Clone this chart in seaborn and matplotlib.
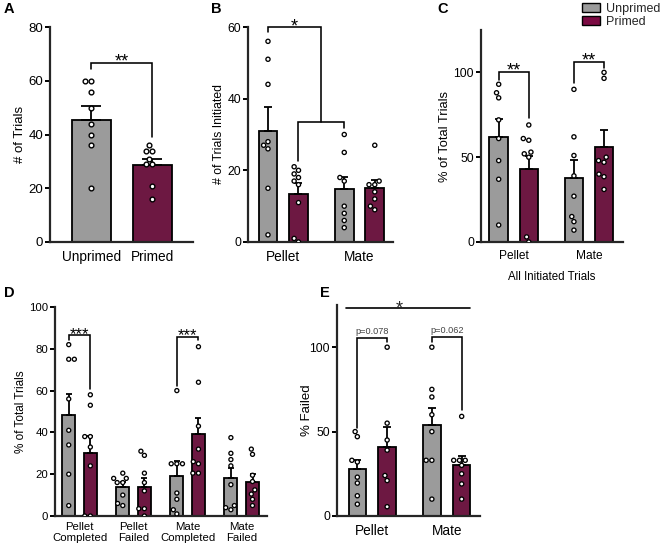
import numpy as np
import pandas as pd
import matplotlib
matplotlib.use("Agg")
import matplotlib.pyplot as plt
import seaborn as sns
from matplotlib.patches import Patch

# ---------------- data ----------------
groups = ["Unprimed", "Primed"]

# Panel A
A_means = [45.5, 28.5]
A_sems = [5.0, 2.5]
A_unprimed = [60, 60, 56, 50, 44, 40, 36, 20]
A_primed = [36, 34, 34, 31, 29, 29, 21, 16]

# Panel B (# of trials initiated)
B_cats = ["Pellet", "Mate"]
B_means_u = [31.0, 14.8]
B_means_p = [13.3, 15.0]
B_sems_u = [6.6, 3.4]
B_sems_p = [3.1, 2.4]
B_pellet_u = [56, 51, 44, 28, 27, 26, 15, 2]
B_pellet_p = [21, 20, 19, 18, 17, 16, 11, 1, 0]
B_mate_u = [30, 25, 18, 17, 10, 8, 6, 4]
B_mate_p = [27, 17, 16, 16, 14, 12, 10, 9]

# Panel C (% of total trials, all initiated)
C_cats = ["Pellet", "Mate"]
C_means_u = [61.7, 37.8]
C_means_p = [43.3, 55.8]
C_sems_u = [10.8, 10.3]
C_sems_p = [7.4, 10.0]
C_pellet_u = [93, 88, 85, 72, 61, 48, 37, 10]
C_pellet_p = [69, 61, 60, 53, 52, 50, 3, 0]
C_mate_u = [90, 62, 51, 39, 27, 15, 12, 7]
C_mate_p = [100, 96.5, 50, 48, 47, 40, 38.5, 31]

# Panel D (% of total trials by outcome)
D_cats = ["Pellet\nCompleted", "Pellet\nFailed", "Mate\nCompleted", "Mate\nFailed"]
D_means_u = [48.3, 13.7, 19.3, 18.0]
D_means_p = [30.3, 14.0, 39.0, 16.4]
D_sems_u = [10.3, 2.6, 7.1, 5.1]
D_sems_p = [7.9, 4.3, 8.0, 3.6]
D_pc_u = [82, 75, 75, 56, 41, 34, 20, 5]
D_pc_p = [58, 53, 38, 38, 33, 24, 0, 0]
D_pf_u = [20.5, 18, 18, 16, 16, 10, 6, 5]
D_pf_p = [31, 29, 20.5, 16, 12, 3.5, 3.5, 0]
D_mc_u = [60, 25, 25, 25, 11, 8, 3, 1]
D_mc_p = [81, 64, 43, 32, 26, 25, 20.5, 20.5]
D_mf_u = [37.5, 30, 27, 24, 15, 5, 4, 3]
D_mf_p = [32, 29.5, 19.5, 16.5, 12.5, 10.5, 8, 5]

# Panel E (% failed)
E_cats = ["Pellet", "Mate"]
E_means_u = [27.8, 53.7]
E_means_p = [41.0, 30.4]
E_sems_u = [5.6, 10.5]
E_sems_p = [11.7, 5.0]
E_pellet_u = [50, 47, 33, 32, 23, 19.5, 12, 7]
E_pellet_p = [100, 55, 45, 39, 24, 21, 5.5]
E_mate_u = [100, 75, 70.5, 60, 50, 33, 33, 10]
E_mate_p = [59, 33, 33, 33, 30, 25, 19, 10]

# ---------------- style ----------------
sns.set_theme(style="ticks")
plt.rcParams["font.family"] = ["Liberation Sans", "DejaVu Sans"]
plt.rcParams["axes.linewidth"] = 1.5

GREY = "#9b9b9b"
MAROON = "#7b0a42"
pal = {"Unprimed": GREY, "Primed": MAROON}
white = {"Unprimed": "white", "Primed": "white"}

W, H = 661, 549
fig = plt.figure(figsize=(W / 100, H / 100), dpi=100)


def add_ax(l, t, r, b):
    return fig.add_axes([l / W, 1 - b / H, (r - l) / W, (b - t) / H])


def style(ax, box, ylim, yticks, tick_fs, ylabel, ylab_fs, ylab_x, xtick_fs, xpad=5):
    l, t, r, b = box
    ax.set_ylim(*ylim)
    ax.set_yticks(yticks)
    sns.despine(ax=ax)
    for s in ["left", "bottom"]:
        ax.spines[s].set_linewidth(1.6)
    ax.tick_params(axis="y", length=3.5, width=1.4, labelsize=tick_fs, pad=1.5,
                   direction="out", colors="black")
    ax.tick_params(axis="x", length=0, labelsize=xtick_fs, pad=xpad, colors="black")
    ax.set_xlabel("")
    ax.set_ylabel(ylabel, fontsize=ylab_fs, color="black")
    ax.yaxis.set_label_coords((ylab_x - l) / (r - l), 0.5)


def long_df(cats, lists_u, lists_p):
    rows = []
    for c, lu, lp in zip(cats, lists_u, lists_p):
        rows += [(c, "Unprimed", v) for v in lu]
        rows += [(c, "Primed", v) for v in lp]
    return pd.DataFrame(rows, columns=["cat", "grp", "val"])


def hue_panel(ax, cats, mu, mp, su, sp, pts, gap, capsize, size=3.0):
    bars = pd.DataFrame({"cat": cats * 2,
                         "grp": ["Unprimed"] * len(cats) + ["Primed"] * len(cats),
                         "val": mu + mp})
    sns.barplot(data=bars, x="cat", y="val", hue="grp", hue_order=groups, order=cats,
                palette=pal, width=0.8, gap=gap, errorbar=None, edgecolor="black",
                linewidth=1.3, legend=False, ax=ax, zorder=2)
    rects = sorted(ax.patches, key=lambda p: p.get_x())
    centers = [p.get_x() + p.get_width() / 2 for p in rects]
    heights = [p.get_height() for p in rects]
    sems = [v for pair in zip(su, sp) for v in pair]
    ax.errorbar(centers, heights, yerr=[np.zeros(len(sems)), sems], fmt="none",
                ecolor="black", elinewidth=1.3, capsize=capsize, capthick=1.3, zorder=2.5)
    sns.swarmplot(data=pts, x="cat", y="val", hue="grp", hue_order=groups, order=cats,
                  dodge=True, palette=white, edgecolor="black", linewidth=0.95, size=size,
                  legend=False, ax=ax, zorder=3)
    return centers, rects


def bracket(ax, x1, x2, y, y1, y2, text=None, fs=12, dy=-2.5, color="black"):
    ax.plot([x1, x1, x2, x2], [y1, y, y, y2], color="black", lw=1.15, clip_on=False,
            solid_joinstyle="miter", zorder=4)
    if text:
        ax.annotate(text, xy=((x1 + x2) / 2, y), xytext=(0, dy), textcoords="offset points",
                    ha="center", va="baseline", fontsize=fs, color=color, annotation_clip=False)


# ---------------- Panel A ----------------
boxA = (50, 27, 193, 242)
axA = add_ax(*boxA)
dfA_bar = pd.DataFrame({"grp": groups, "val": A_means})
sns.barplot(data=dfA_bar, x="grp", y="val", hue="grp", order=groups, hue_order=groups,
            palette=pal, width=0.64, errorbar=None, edgecolor="black", linewidth=1.3,
            legend=False, ax=axA, zorder=2)
rA = sorted(axA.patches, key=lambda p: p.get_x())
cA = [p.get_x() + p.get_width() / 2 for p in rA]
axA.errorbar(cA, [p.get_height() for p in rA], yerr=[np.zeros(2), A_sems], fmt="none",
             ecolor="black", elinewidth=1.3, capsize=7.5, capthick=1.3, zorder=2.5)
dfA_pts = pd.DataFrame({"grp": ["Unprimed"] * len(A_unprimed) + ["Primed"] * len(A_primed),
                        "val": A_unprimed + A_primed})
sns.swarmplot(data=dfA_pts, x="grp", y="val", order=groups, color="white", edgecolor="black",
              linewidth=1.0, size=3.4, ax=axA, zorder=3)
axA.set_xlim(-0.68, 1.664)
style(axA, boxA, (0, 80), [0, 20, 40, 60, 80], 9.5, "# of Trials", 9.5, 26.5, 9.8, xpad=6)
bracket(axA, cA[0], cA[1], 66.7, 64.5, 39.0, "**", fs=13, dy=-2.5)

# ---------------- Panel B ----------------
boxB = (248, 27, 393, 242)
axB = add_ax(*boxB)
ptsB = long_df(B_cats, [B_pellet_u, B_mate_u], [B_pellet_p, B_mate_p])
cB, _ = hue_panel(axB, B_cats, B_means_u, B_means_p, B_sems_u, B_sems_p, ptsB, gap=0.39, capsize=3.0)
axB.set_xlim(-0.462, 1.439)
style(axB, boxB, (0, 60), [0, 20, 40, 60], 8.8, "# of Trials Initiated", 8.8, 224.5, 9.8, xpad=6)
mid2 = (cB[1] + cB[2]) / 2
bracket(axB, cB[1], cB[2], 33.6, 22.5, 31.8)
bracket(axB, cB[0], mid2, 60, 58.5, 33.6, "*", fs=13, dy=-3.5)

# ---------------- Panel C ----------------
boxC = (481, 30, 623, 242)
axC = add_ax(*boxC)
ptsC = long_df(C_cats, [C_pellet_u, C_mate_u], [C_pellet_p, C_mate_p])
cC, _ = hue_panel(axC, C_cats, C_means_u, C_means_p, C_sems_u, C_sems_p, ptsC, gap=0.385, capsize=2.6)
axC.set_xlim(-0.435, 1.452)
style(axC, boxC, (0, 125), [0, 50, 100], 8.8, "% of Total Trials", 9.3, 450.5, 8.6, xpad=6)
axC.set_xlabel("All Initiated Trials", fontsize=8.3, color="black", labelpad=6)
bracket(axC, cC[0], cC[1], 100, 95.5, 73, "**", fs=13, dy=-2.5)
bracket(axC, cC[2], cC[3], 106, 94, 102.5, "**", fs=13, dy=-2.5)

# legend
handles = [Patch(facecolor=pal[g], edgecolor="black", linewidth=1.0) for g in groups]
fig.legend(handles, groups, loc="upper left", bbox_to_anchor=(582 / W, 1 - 3 / H),
           frameon=False, fontsize=9.0, handlelength=1.45, handleheight=0.68,
           handletextpad=0.45, labelspacing=0.05, borderpad=0, borderaxespad=0)

# ---------------- Panel D ----------------
boxD = (55, 307, 267, 516)
axD = add_ax(*boxD)
ptsD = long_df(D_cats, [D_pc_u, D_pf_u, D_mc_u, D_mf_u], [D_pc_p, D_pf_p, D_mc_p, D_mf_p])
cD, _ = hue_panel(axD, D_cats, D_means_u, D_means_p, D_sems_u, D_sems_p, ptsD, gap=0.4, capsize=2.3, size=2.9)
axD.set_xlim(-0.454, 3.468)
style(axD, boxD, (0, 100), [0, 20, 40, 60, 80, 100], 8.2, "% of Total Trials", 8.5, 27.5, 8.2, xpad=4)
for lab in axD.get_xticklabels():
    lab.set_linespacing(1.15)
bracket(axD, cD[0], cD[1], 86.5, 84, 61, "***", fs=12, dy=-2.5)
bracket(axD, cD[4], cD[5], 85.7, 62, 84, "***", fs=12, dy=-2.5)

# ---------------- Panel E ----------------
boxE = (337, 305, 480, 516)
axE = add_ax(*boxE)
ptsE = long_df(E_cats, [E_pellet_u, E_mate_u], [E_pellet_p, E_mate_p])
cE, rE = hue_panel(axE, E_cats, E_means_u, E_means_p, E_sems_u, E_sems_p, ptsE, gap=0.41, capsize=3.2)
axE.set_xlim(-0.473, 1.446)
style(axE, boxE, (0, 125), [0, 50, 100], 8.8, "% Failed", 9.5, 312.5, 9.8, xpad=6)
bracket(axE, cE[0], cE[1], 105.5, 52.3, 103, "p=0.078", fs=6.6, dy=2.5, color="#444444")
bracket(axE, cE[2], cE[3], 106.3, 103, 63, "p=0.062", fs=6.6, dy=2.5, color="#444444")
x_left = rE[0].get_x() - 0.04
x_right = rE[-1].get_x() + rE[-1].get_width()
axE.plot([x_left, x_right], [123.4, 123.4], color="black", lw=1.2, clip_on=False, zorder=4)
axE.annotate("*", xy=((x_left + x_right) / 2 - 0.12, 123.4), xytext=(0, -4.5),
             textcoords="offset points", ha="center", va="baseline", fontsize=13,
             annotation_clip=False)

# ---------------- panel letters ----------------
for letter, (x, y) in {"A": (4, 9), "B": (211, 9), "C": (437, 9),
                       "D": (4, 293), "E": (320, 293)}.items():
    fig.text(x / W, 1 - y / H, letter, fontsize=10.5, fontweight="bold",
             ha="left", va="center", color="black")

fig.savefig("out.png", dpi=100)
